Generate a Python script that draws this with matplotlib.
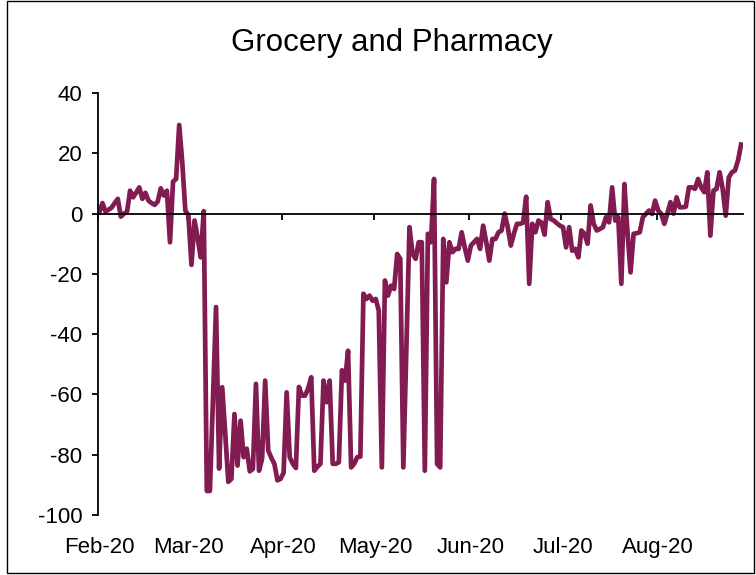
import matplotlib.pyplot as plt
import matplotlib as mpl
import matplotlib.dates as mdates
import matplotlib.transforms as mtransforms
import pandas as pd

# daily mobility change vs baseline (%), from 15 Feb 2020
start_date = '2020-02-15'
grocery_pharmacy = [
    0.5, 3.5, 0.7, 1.3, 2, 3.5, 4.9, -1, 0, 0.5,
    7.6, 5.4, 7, 8.7, 4.9, 6.9, 4.3, 3.5, 2.9, 4,
    8.4, 6, 7.6, -9.5, 10.6, 11.5, 29.4, 17, 1, -0.5,
    -17, -2.3, -8, -14.5, 0.8, -92, -92, -62, -31, -84.6,
    -57.6, -73, -89, -88, -66.5, -83.6, -68.7, -80.8, -78, -85.5,
    -84.7, -56.5, -85.3, -81.3, -55.4, -78.6, -81, -83, -88.5, -88,
    -86, -59.3, -80.8, -83, -84.4, -57.5, -60.4, -60.4, -58, -54.3,
    -85.3, -84, -83, -55.4, -62.6, -55.4, -83, -83, -82.5, -52,
    -55.4, -45.5, -84.2, -83, -80.8, -80.6, -26.6, -28.3, -27.2, -28.9,
    -28.3, -32.2, -84.2, -22.2, -27.2, -23.9, -25, -13.4, -15, -84.2,
    -44, -4.5, -13.4, -15, -9.5, -9.5, -85.3, -6.7, -9.5, 11.5,
    -83, -84.2, -8.4, -22.8, -9.5, -12.8, -11.7, -11.7, -6.2, -11.2,
    -15.6, -10.6, -9.5, -8.4, -11.7, -4, -9.5, -15.6, -8.4, -8.4,
    -6.2, -5.6, 0, -4.5, -10.6, -6.7, -3.4, -3.4, -3, 5.6,
    -23.3, -3.4, -6.2, -2.3, -3, -7, 3.8, -1.8, -2.3, -3.2,
    -4, -4.5, -11.2, -4.5, -12.3, -11.7, -14.5, -5.6, -6.7, -10,
    2.7, -3.4, -5.6, -5.1, -4.5, -1.2, -2.9, 8.7, -2.3, -1.2,
    -23.3, 9.8, -6.2, -19.5, -6.7, -6.5, -6.2, -1.2, -0.1, 1,
    -0.1, 4.3, 1, -0.1, -3.4, 0, 3.8, 0, 5.4, 2.1,
    2.1, 2.3, 8.7, 8.7, 8.2, 11.5, 8.7, 7.1, 13.7, -7.3,
    7.6, 8.2, 13.7, 8.2, -0.7, 12, 13.7, 14.3, 17.6, 22.9,
]
tick_dates = ['2020-02-15', '2020-03-15', '2020-04-15', '2020-05-15',
              '2020-06-15', '2020-07-15', '2020-08-15']
tick_labels = ['Feb-20', 'Mar-20', 'Apr-20', 'May-20', 'Jun-20', 'Jul-20', 'Aug-20']
y_ticks = [-100, -80, -60, -40, -20, 0, 20, 40]

mpl.rcParams['font.family'] = ['Liberation Sans', 'DejaVu Sans']
mpl.rcParams['font.size'] = 16
mpl.rcParams['axes.unicode_minus'] = False

dates = pd.date_range(start_date, periods=len(grocery_pharmacy), freq='D')
half_day = pd.Timedelta(hours=12)
ticks = pd.to_datetime(tick_dates) - half_day

fig = plt.figure(figsize=(7.56, 5.75), dpi=100)
ax = fig.add_axes([0.1294, 0.1043, 0.8529, 0.7339])

ax.plot(dates, grocery_pharmacy, color='#821B52', lw=3.4)

ax.set_xlim(dates[0] - half_day, dates[-1] + half_day)
ax.set_ylim(-100, 40)
ax.set_yticks(y_ticks)

# axis crosses at zero, labels sit at the bottom
ax.spines['bottom'].set_position(('data', 0))
ax.spines['top'].set_visible(False)
ax.spines['right'].set_visible(False)
ax.spines['left'].set_linewidth(1.3)
ax.spines['bottom'].set_linewidth(1.3)
ax.set_xticks(ticks)
ax.tick_params(axis='x', direction='out', length=4, width=1.3, labelbottom=False)
ax.tick_params(axis='y', direction='out', length=4, width=1.3, pad=7)

trans = mtransforms.blended_transform_factory(ax.transData, ax.transAxes)
for d, lab in zip(pd.to_datetime(tick_dates), tick_labels):
    ax.text(mdates.date2num(d), -0.078, lab, transform=trans, ha='center', va='center')

fig.text(392 / 756, 1 - 43 / 575, 'Grocery and Pharmacy', ha='center', va='center', fontsize=22.5)

# outer frame
fig.add_artist(plt.Rectangle((7 / 756, 2 / 575), 747 / 756, 572 / 575, transform=fig.transFigure,
                             fill=False, lw=1, ec='black'))

fig.savefig('out.png', dpi=100)
